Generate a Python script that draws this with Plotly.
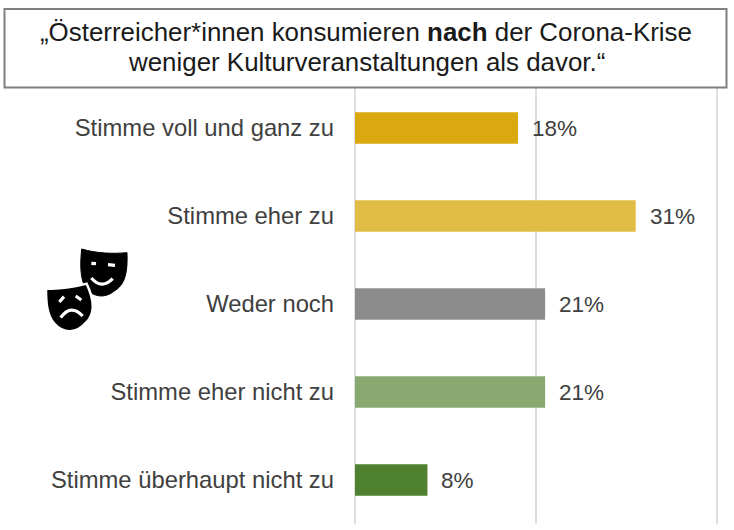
import plotly.graph_objects as go

categories = ["Stimme voll und ganz zu", "Stimme eher zu", "Weder noch", "Stimme eher nicht zu", "Stimme überhaupt nicht zu"]
values = [18, 31, 21, 21, 8]
labels = ["18%", "31%", "21%", "21%", "8%"]
colors = ["#DAA80F", "#E2BD45", "#8C8C8C", "#87A970", "#4F8131"]
ticks = [0, 20, 40]
title_lines = ["„Österreicher*innen konsumieren <b>nach</b> der Corona-Krise",
               "weniger Kulturveranstaltungen als davor.“"]

W, H = 734, 530
L, R, T, B = 355, 15, 84, 6
PW, PH = W - L - R, H - T - B


def fx(px):
    return (px - L) / PW


def fy(py):
    return 1 - (py - T) / PH


def icon(d):
    out = []
    for tok in d:
        if isinstance(tok, str):
            out.append(tok)
        else:
            out.append(f"{fx(30 + tok[0] / 3):.5f},{fy(240 + tok[1] / 3):.5f}")
    return " ".join(out)


happy = ["M", (155, 27), "C", (200, 40), (245, 42), (291, 38),
         "C", (293, 95), (287, 135), (250, 155), "C", (225, 174), (195, 172), (172, 150),
         "C", (150, 125), (150, 75), (155, 27), "Z"]
sad = ["M", (48, 146), "C", (90, 148), (130, 142), (170, 131),
       "C", (193, 180), (198, 220), (168, 248), "C", (140, 282), (100, 282), (72, 250),
       "C", (50, 225), (48, 185), (48, 146), "Z"]
strokes = [
    ["M", (184, 70), "L", (198, 71)],
    ["M", (234, 74), "L", (255, 76)],
    ["M", (184, 114), "Q", (215, 150), (248, 116)],
    ["M", (88, 186), "L", (102, 170)],
    ["M", (137, 168), "L", (154, 180)],
    ["M", (92, 233), "Q", (122, 190), (158, 228)],
]

shapes = [
    dict(type="rect", xref="paper", yref="paper", x0=fx(4.5), x1=fx(726.5), y0=fy(87.5), y1=fy(9),
         fillcolor="white", line=dict(color="#7F7F7F", width=2), layer="above"),
    dict(type="path", xref="paper", yref="paper", path=icon(happy), fillcolor="black", line=dict(color="black", width=1), layer="above"),
    dict(type="path", xref="paper", yref="paper", path=icon(sad), fillcolor="black", line=dict(color="white", width=2.5), layer="above"),
]
for s in strokes:
    shapes.append(dict(type="path", xref="paper", yref="paper", path=icon(s),
                       line=dict(color="white", width=3.2), layer="above"))

annotations = [dict(x=v, y=c, text=t, xref="x", yref="y", xanchor="left", xshift=12, yshift=-0.5, showarrow=False,
                    font=dict(family="Liberation Sans", size=22.5, color="#404040"))
               for v, c, t in zip(values, categories, labels)]
for line, py in zip(title_lines, [32, 62]):
    annotations.append(dict(x=fx(366), y=fy(py), xref="paper", yref="paper", text=line, showarrow=False,
                            xanchor="center", yanchor="middle",
                            font=dict(family="Liberation Sans", size=25.9, color="#1A1A1A")))

fig = go.Figure(go.Bar(y=categories, x=values, orientation="h", marker=dict(color=colors, line_width=0), width=0.36))
fig.update_layout(
    width=W, height=H, autosize=False, showlegend=False,
    paper_bgcolor="white", plot_bgcolor="white",
    margin=dict(l=L, r=R, t=T, b=B),
    font=dict(family="Liberation Sans", size=23.8, color="#404040"),
    shapes=shapes, annotations=annotations,
)
fig.update_xaxes(range=[0, 40.2], tickvals=ticks, showticklabels=False, showgrid=True, gridcolor="#DEDEDE", gridwidth=1.5,
                 zeroline=True, zerolinecolor="#DEDEDE", zerolinewidth=1.5, showline=False)
fig.update_yaxes(autorange="reversed", ticks="", ticklabelstandoff=20, showline=False, showgrid=False)
fig.write_html("out.html", config={"displayModeBar": False},
               post_script="document.body.style.margin='0';document.body.style.overflow='hidden';")
